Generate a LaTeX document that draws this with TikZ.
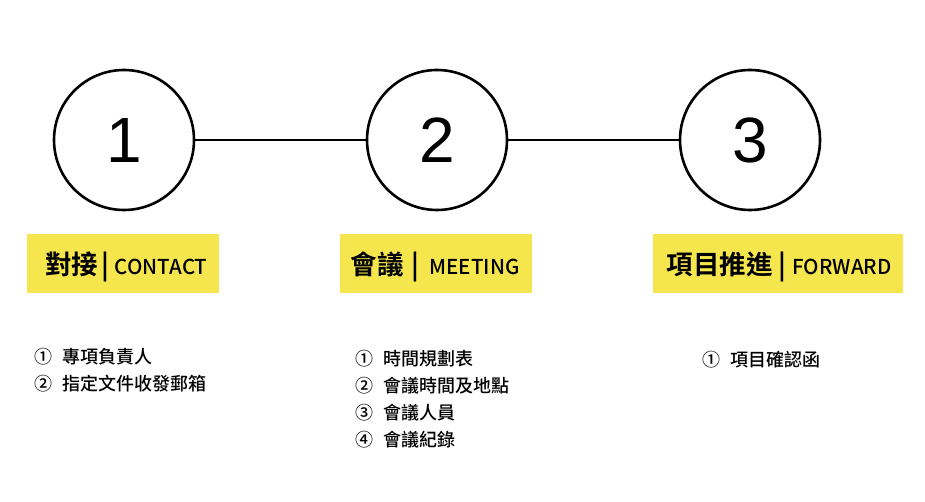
\documentclass[tikz,border=0pt]{standalone}
\usepackage{fontspec}
\setmainfont{Liberation Sans}
\newfontfamily\cjk{Noto Sans CJK TC}[BoldFont={Noto Sans CJK TC Bold}]
\newfontfamily\cjkm{Noto Sans CJK TC Medium}
\definecolor{hl}{HTML}{F5E64E}
\begin{document}
\begin{tikzpicture}[x=1pt,y=-1pt,
  stepcircle/.style={circle,draw=black,line width=2.6pt,minimum size=140pt,inner sep=0pt,font=\fontsize{64}{64}\selectfont},
  link/.style={line width=2.6pt},
  titlebox/.style={fill=hl,anchor=north west,inner sep=0pt,minimum height=59pt},
  titletext/.style={anchor=center,inner sep=0pt},
  item/.style={anchor=west,inner sep=0pt,font=\cjkm\fontsize{18}{20}\selectfont}
]
\useasboundingbox (0,0) rectangle (925,502);
\node[stepcircle] (c1) at (124,140) {1};
\node[stepcircle] (c2) at (437,140) {2};
\node[stepcircle] (c3) at (750,140) {3};
\draw[link] (c1) -- (c2);
\draw[link] (c2) -- (c3);
\node[titlebox,minimum width=192pt] (t1) at (27,234) {};
\node[titlebox,minimum width=192pt] (t2) at (340,234) {};
\node[titlebox,minimum width=250pt] (t3) at (653,234) {};
\newcommand{\tcjk}[1]{{\cjk\bfseries\fontsize{26.5}{30}\selectfont #1}}
\newcommand{\tbar}{{\cjk\bfseries\fontsize{26.5}{30}\selectfont |}}
\newcommand{\tlat}[1]{{\cjkm\fontsize{20.5}{24}\selectfont #1}}
\node[titletext] (l1) at ([yshift=-3pt,xshift=3pt]t1.center) {\tcjk{對接}\hspace{4pt}\tbar\hspace{5pt}\tlat{CONTACT}};
\node[titletext] (l2) at ([yshift=-3pt,xshift=-1pt]t2.center) {\tcjk{會議}\hspace{8pt}\tbar\hspace{10pt}\tlat{MEETING}};
\node[titletext] (l3) at ([yshift=-3pt,xshift=1pt]t3.center) {\tcjk{項目推進}\hspace{6pt}\tbar\hspace{6pt}\tlat{FORWARD}};
\node[item] (a1) at (34,357) {①\hspace{10pt}專項負責人};
\node[item] (a2) at (34,384) {②\hspace{10pt}指定文件收發郵箱};
\node[item] (b1) at (355,359) {①\hspace{10pt}時間規劃表};
\node[item] (b2) at (355,386) {②\hspace{10pt}會議時間及地點};
\node[item] (b3) at (355,413) {③\hspace{10pt}會議人員};
\node[item] (b4) at (355,440) {④\hspace{10pt}會議紀錄};
\node[item] (d1) at (702,360) {①\hspace{10pt}項目確認函};
\end{tikzpicture}
\end{document}
